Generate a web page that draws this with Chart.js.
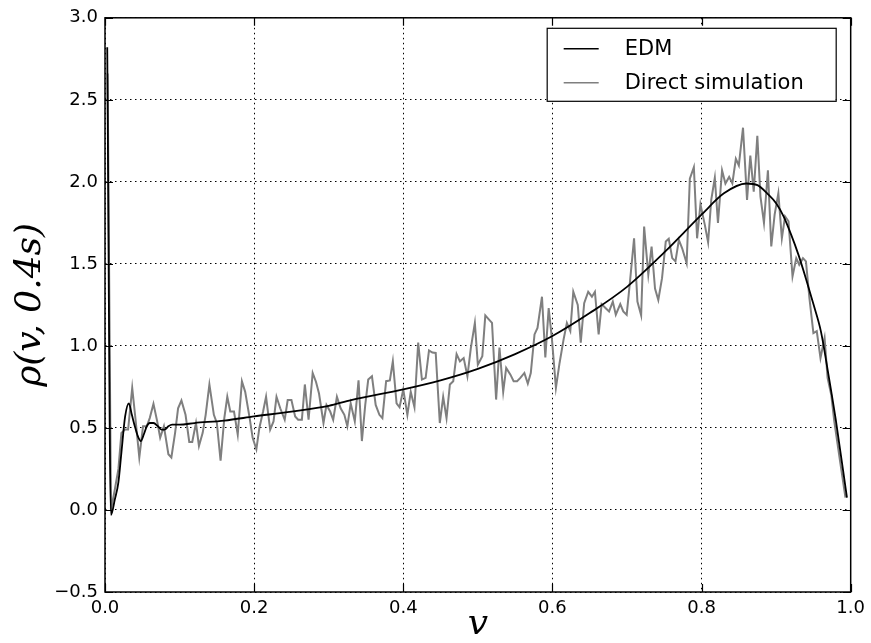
<!DOCTYPE html>
<html>
<head>
<meta charset="utf-8">
<script src="https://cdn.jsdelivr.net/npm/chart.js@4"></script>
<style>
  html, body { margin: 0; padding: 0; background: #fff; }
  #wrap { width: 871px; height: 643px; }
</style>
</head>
<body>
<div id="wrap"><canvas id="chart"></canvas></div>
<script>
// EDM curve
const edmV = [0.003, 0.008, 0.013, 0.018, 0.022, 0.027, 0.032, 0.036, 0.040, 0.044, 0.048, 0.052,
  0.056, 0.060, 0.065, 0.071, 0.076, 0.080, 0.085, 0.090, 0.10, 0.12, 0.16, 0.20, 0.25, 0.30,
  0.33, 0.40, 0.45, 0.50, 0.55, 0.60, 0.65, 0.70, 0.75, 0.80, 0.83, 0.86, 0.875, 0.89, 0.90,
  0.91, 0.92, 0.93, 0.94, 0.95, 0.96, 0.97, 0.98, 0.995];
const edmRho = [2.82, -0.03, 0.06, 0.17, 0.35, 0.57, 0.65, 0.58, 0.51, 0.45, 0.42, 0.46,
  0.51, 0.53, 0.53, 0.51, 0.49, 0.49, 0.51, 0.52, 0.52, 0.53, 0.545, 0.57, 0.60, 0.635,
  0.67, 0.735, 0.79, 0.86, 0.95, 1.06, 1.20, 1.36, 1.57, 1.80, 1.93, 1.99, 1.98, 1.92, 1.87,
  1.79, 1.68, 1.555, 1.41, 1.255, 1.09, 0.83, 0.55, 0.075];

// direct simulation
const simV = [0.0035, 0.008, 0.013, 0.018, 0.022, 0.027, 0.031, 0.0365, 0.041, 0.046, 0.051, 0.056,
  0.060, 0.065, 0.070, 0.074, 0.079, 0.085, 0.089, 0.094, 0.098, 0.1025, 0.108, 0.113, 0.117,
  0.122, 0.126, 0.131, 0.135, 0.140, 0.146, 0.150, 0.155, 0.160, 0.164, 0.168, 0.173, 0.178,
  0.1836, 0.188, 0.194, 0.198, 0.203, 0.207, 0.212, 0.216, 0.2215, 0.226, 0.230, 0.235, 0.241,
  0.245, 0.250, 0.255, 0.259, 0.264, 0.268, 0.273, 0.2785, 0.283, 0.287, 0.293, 0.297, 0.302,
  0.306, 0.311, 0.316, 0.321, 0.325, 0.3295, 0.335, 0.340, 0.3445, 0.349, 0.353, 0.358, 0.363,
  0.368, 0.372, 0.377, 0.382, 0.386, 0.391, 0.395, 0.400, 0.4055, 0.410, 0.415, 0.420, 0.425,
  0.430, 0.4345, 0.439, 0.4435, 0.449, 0.4535, 0.458, 0.4625, 0.467, 0.4715, 0.476, 0.481,
  0.486, 0.4906, 0.496, 0.500, 0.506, 0.510, 0.515, 0.519, 0.5245, 0.529, 0.534, 0.538, 0.5437,
  0.548, 0.5526, 0.557, 0.5624, 0.567, 0.571, 0.576, 0.580, 0.586, 0.5905, 0.595, 0.5994,
  0.6047, 0.6096, 0.615, 0.6194, 0.624, 0.628, 0.634, 0.638, 0.6426, 0.648, 0.653, 0.657,
  0.662, 0.666, 0.6715, 0.676, 0.681, 0.685, 0.691, 0.695, 0.6996, 0.704, 0.7095, 0.714, 0.719,
  0.723, 0.7286, 0.733, 0.7376, 0.742, 0.747, 0.752, 0.756, 0.7607, 0.765, 0.7696, 0.774, 0.780,
  0.7843, 0.7897, 0.794, 0.7985, 0.8044, 0.8088, 0.813, 0.8178, 0.822, 0.8275, 0.832, 0.837,
  0.8413, 0.846, 0.850, 0.8556, 0.861, 0.8654, 0.870, 0.8748, 0.879, 0.8837, 0.889, 0.8935,
  0.898, 0.903, 0.9077, 0.912, 0.9166, 0.922, 0.927, 0.931, 0.936, 0.940, 0.9447, 0.950,
  0.9545, 0.9595, 0.965, 0.969, 0.974, 0.978, 0.985, 0.993];
const simRho = [2.66, 0.0, 0.12, 0.25, 0.47, 0.49, 0.49, 0.744, 0.55, 0.32, 0.51, 0.51,
  0.56, 0.647, 0.54, 0.44, 0.51, 0.34, 0.32, 0.47, 0.62, 0.667, 0.58, 0.415, 0.415,
  0.53, 0.39, 0.47, 0.58, 0.765, 0.58, 0.53, 0.30, 0.56, 0.69, 0.60, 0.60, 0.46,
  0.785, 0.72, 0.56, 0.44, 0.37, 0.50, 0.60, 0.69, 0.49, 0.54, 0.69, 0.62, 0.55,
  0.67, 0.67, 0.57, 0.55, 0.55, 0.765, 0.55, 0.835, 0.78, 0.71, 0.53, 0.64, 0.60,
  0.55, 0.69, 0.62, 0.58, 0.51, 0.65, 0.54, 0.79, 0.42, 0.64, 0.795, 0.815, 0.64,
  0.58, 0.56, 0.785, 0.79, 0.906, 0.65, 0.626, 0.734, 0.58, 0.72, 0.626, 1.02, 0.795,
  0.805, 0.973, 0.96, 0.957, 0.53, 0.69, 0.56, 0.765, 0.785, 0.95, 0.906, 0.926,
  0.815, 0.987, 1.14, 0.886, 0.937, 1.186, 1.16, 1.14, 0.673, 0.99, 0.72, 0.866, 0.825,
  0.785, 0.785, 0.805, 0.835, 0.77, 0.835, 1.07, 1.11, 1.30, 0.93, 1.23, 1.04,
  0.744, 0.896, 1.04, 1.14, 1.09, 1.33, 1.25, 1.02, 1.26, 1.33, 1.30, 1.33,
  1.07, 1.255, 1.23, 1.21, 1.27, 1.19, 1.255, 1.21, 1.19, 1.39, 1.656, 1.27, 1.186,
  1.727, 1.434, 1.606, 1.35, 1.28, 1.413, 1.636, 1.653, 1.535, 1.515, 1.646, 1.595, 1.504,
  2.02, 2.09, 1.656, 1.863, 1.738, 1.632, 1.89, 2.025, 1.75, 2.07, 1.99, 2.03,
  1.99, 2.14, 2.10, 2.33, 1.89, 2.16, 1.94, 2.28, 1.91, 1.75, 2.07, 1.606,
  1.80, 1.93, 1.656, 1.79, 1.76, 1.423, 1.535, 1.495, 1.535, 1.515, 1.29, 1.078,
  1.09, 0.926, 1.048, 0.805, 0.70, 0.54, 0.32, 0.075];

const xTicks = [0.0, 0.2, 0.4, 0.6, 0.8, 1.0];
const yTicks = [-0.5, 0.0, 0.5, 1.0, 1.5, 2.0, 2.5, 3.0];
const seriesNames = ['EDM', 'Direct simulation'];

function pairs(xs, ys) {
  return xs.map((x, i) => ({ x: x, y: ys[i] }));
}

function fmt(v) {
  return v.toFixed(1).replace('-', '\u2212');
}

// box, inward ticks and legend, matplotlib style
const framePlugin = {
  id: 'frame',
  afterDatasetsDraw(chart) {
    const ctx = chart.ctx;
    const a = chart.chartArea;
    const xs = chart.scales.x, ys = chart.scales.y;
    ctx.save();
    ctx.strokeStyle = '#000';
    ctx.lineWidth = 1.2;
    ctx.beginPath();
    xTicks.forEach(v => {
      const px = Math.round(xs.getPixelForValue(v)) + 0.5;
      ctx.moveTo(px, a.bottom); ctx.lineTo(px, a.bottom - 8);
      ctx.moveTo(px, a.top); ctx.lineTo(px, a.top + 8);
    });
    yTicks.forEach(v => {
      const py = Math.round(ys.getPixelForValue(v)) + 0.5;
      ctx.moveTo(a.left, py); ctx.lineTo(a.left + 8, py);
      ctx.moveTo(a.right, py); ctx.lineTo(a.right - 8, py);
    });
    ctx.stroke();
    ctx.lineWidth = 1.5;
    ctx.strokeRect(a.left, a.top, a.right - a.left, a.bottom - a.top);

    // legend
    const bw = 289, bh = 73;
    const bx = a.right - 15 - bw, by = a.top + 10;
    ctx.fillStyle = '#fff';
    ctx.fillRect(bx, by, bw, bh);
    ctx.lineWidth = 1.2;
    ctx.strokeRect(bx + 0.5, by + 0.5, bw, bh);
    ctx.font = '21px "DejaVu Sans"';
    ctx.textBaseline = 'middle';
    chart.data.datasets.forEach((ds, i) => {
      const ly = by + 21 + i * 34;
      ctx.strokeStyle = ds.borderColor;
      ctx.lineWidth = 1.6;
      ctx.beginPath();
      ctx.moveTo(bx + 17, ly); ctx.lineTo(bx + 52, ly);
      ctx.stroke();
      ctx.fillStyle = '#000';
      ctx.fillText(ds.label, bx + 78, ly + 1);
    });
    ctx.restore();
  }
};

const ctx = document.getElementById('chart').getContext('2d');
new Chart(ctx, {
  type: 'scatter',
  data: {
    datasets: [{
      label: seriesNames[0],
      data: pairs(edmV, edmRho),
      showLine: true,
      borderColor: '#000000',
      borderWidth: 1.8,
      pointRadius: 0,
      cubicInterpolationMode: 'monotone'
    }, {
      label: seriesNames[1],
      data: pairs(simV, simRho),
      showLine: true,
      borderColor: '#7f7f7f',
      borderWidth: 2,
      pointRadius: 0,
      tension: 0
    }]
  },
  plugins: [framePlugin],
  options: {
    responsive: true,
    maintainAspectRatio: false,
    animation: false,
    layout: { padding: { left: 0, top: 16, right: 18, bottom: 0 } },
    plugins: {
      legend: { display: false },
      tooltip: { enabled: false }
    },
    scales: {
      x: {
        type: 'linear',
        min: 0,
        max: 1,
        afterBuildTicks: s => { s.ticks = xTicks.map(v => ({ value: v })); },
        afterFit: s => { s.height = 51; },
        grid: { color: '#000', lineWidth: 1, drawTicks: false },
        border: { display: false, dash: [1.5, 3.5] },
        ticks: {
          padding: 6,
          color: '#000',
          font: { family: 'DejaVu Sans', size: 18 },
          maxRotation: 0,
          callback: v => fmt(v)
        },
        title: {
          display: true,
          text: 'v',
          color: '#000',
          font: { family: 'DejaVu Serif', style: 'italic', size: 36, lineHeight: 1 },
          padding: { top: 0, bottom: 0 }
        }
      },
      y: {
        type: 'linear',
        min: -0.5,
        max: 3.0,
        afterBuildTicks: s => { s.ticks = yTicks.map(v => ({ value: v })); },
        afterFit: s => { s.width = 105; },
        grid: { color: '#000', lineWidth: 1, drawTicks: false },
        border: { display: false, dash: [1.5, 3.5] },
        ticks: {
          padding: 7,
          color: '#000',
          font: { family: 'DejaVu Sans', size: 18 },
          callback: v => fmt(v)
        },
        title: {
          display: true,
          text: '\u03C1(v, 0.4s)',
          color: '#000',
          font: { family: 'DejaVu Serif', style: 'italic', size: 36, lineHeight: 1 },
          padding: { top: 13, bottom: 0 }
        }
      }
    }
  }
});
</script>
</body>
</html>
